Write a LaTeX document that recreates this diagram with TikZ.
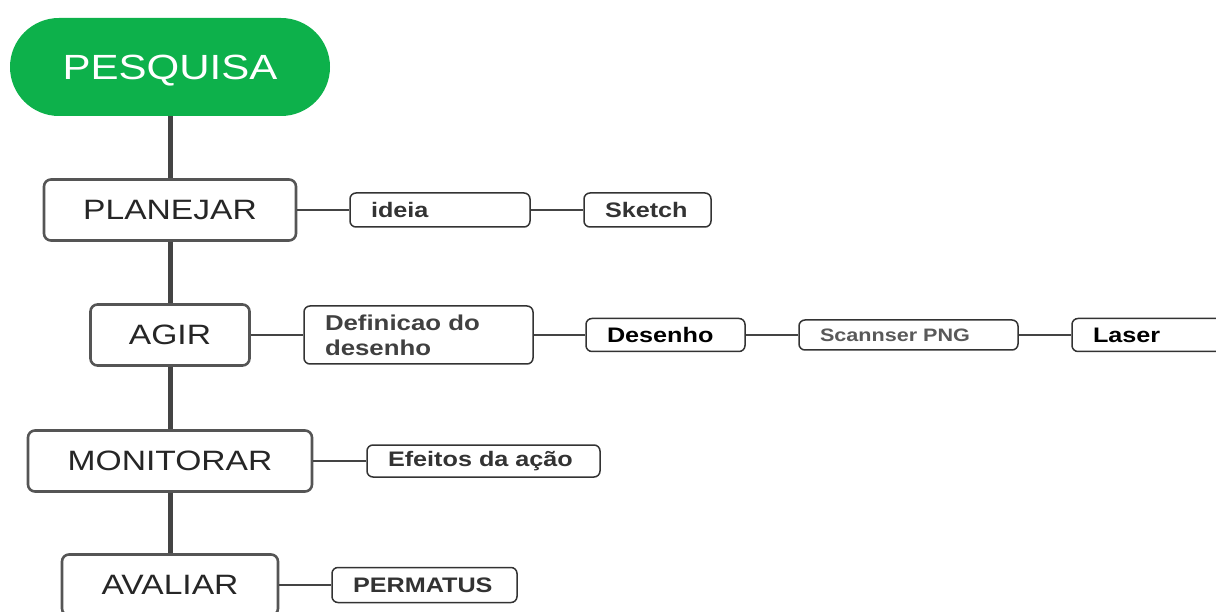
\documentclass[tikz,border=0pt]{standalone}
\usepackage{fontspec}
\setmainfont{Liberation Sans}[FakeStretch=1.2]
\definecolor{pgreen}{HTML}{0DB14B}
\definecolor{trunk}{HTML}{444444}
\definecolor{mainborder}{HTML}{555555}
\definecolor{smallborder}{HTML}{333333}
\definecolor{maintext}{HTML}{262626}
\begin{document}
\begin{tikzpicture}[x=1pt,y=-1pt,
  startbox/.style={fill=pgreen,draw=none,rounded corners=49pt,minimum width=320pt,minimum height=98pt,
    text=white,font=\fontsize{35}{37}\selectfont,inner sep=0pt,text depth=0pt},
  mainbox/.style={draw=mainborder,line width=2.6pt,rounded corners=7pt,fill=white,
    minimum height=61pt,text=maintext,font=\fontsize{28}{30}\selectfont,inner sep=0pt},
  smallbox/.style={draw=smallborder,line width=1.5pt,rounded corners=6pt,fill=white,
    inner xsep=21pt,inner ysep=0pt,align=left,text=black!80,font=\bfseries\fontsize{21}{25}\selectfont},
  trunkline/.style={draw=trunk,line width=5pt},
  link/.style={draw=trunk,line width=1.5pt}]
\useasboundingbox (0,0) rectangle (1216,612);
\clip (0,0) rectangle (1216,612);
% main column
\node[startbox] (pesq) at (170,67) {PESQUISA};
\node[mainbox,minimum width=252pt] (plan) at (170,210) {PLANEJAR};
\node[mainbox,minimum width=159pt] (agir) at (170,335) {AGIR};
\node[mainbox,minimum width=284pt] (moni) at (170,461) {MONITORAR};
\node[mainbox,minimum width=216pt] (aval) at (170,585) {AVALIAR};
\draw[trunkline] (pesq.south) -- (plan.north);
\draw[trunkline] (plan.south) -- (agir.north);
\draw[trunkline] (agir.south) -- (moni.north);
\draw[trunkline] (moni.south) -- (aval.north);
% PLANEJAR branch
\node[smallbox,text width=138pt,minimum height=34pt] (ideia) at (440,210) {ideia};
\node[smallbox,text width=85pt,minimum height=34pt] (sketch) at (647.5,210) {Sketch};
\draw[link] (plan.east) -- (ideia.west);
\draw[link] (ideia.east) -- (sketch.west);
% AGIR branch
\node[smallbox,text width=187pt,minimum height=58pt,text=black!75,font=\bfseries\fontsize{21.5}{25}\selectfont] (defi) at (418.5,335) {Definicao do\\desenho};
\node[smallbox,text width=117pt,minimum height=33pt,text=black] (dese) at (665.5,335) {Desenho};
\node[smallbox,text width=177pt,minimum height=30pt,text=black!65,font=\bfseries\fontsize{18}{20}\selectfont] (scan) at (908.5,335) {Scannser PNG};
\node[smallbox,text width=117pt,minimum height=33pt,text=black] (laser) at (1151.5,335) {Laser};
\draw[link] (agir.east) -- (defi.west);
\draw[link] (defi.east) -- (dese.west);
\draw[link] (dese.east) -- (scan.west);
\draw[link] (scan.east) -- (laser.west);
% MONITORAR branch
\node[smallbox,text width=191pt,minimum height=32pt] (efei) at (483.5,461) {Efeitos da ação};
\draw[link] (moni.east) -- (efei.west);
% AVALIAR branch
\node[smallbox,text width=143pt,minimum height=35pt] (perm) at (424.5,585) {PERMATUS};
\draw[link] (aval.east) -- (perm.west);
\end{tikzpicture}
\end{document}
